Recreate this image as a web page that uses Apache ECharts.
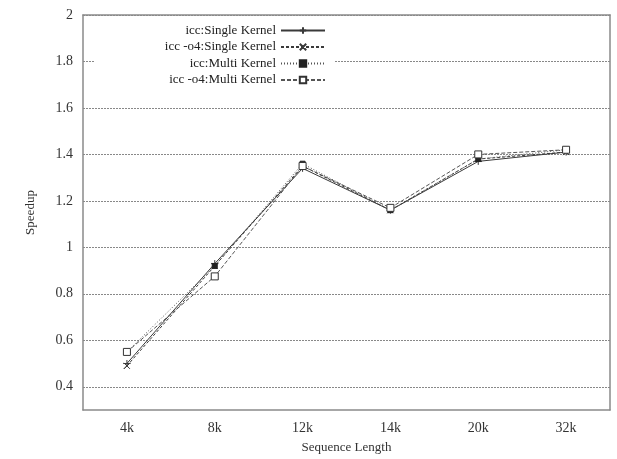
<!DOCTYPE html>
<html>
<head>
<meta charset="utf-8">
<script src="https://cdn.jsdelivr.net/npm/echarts@6/dist/echarts.min.js"></script>
<style>html,body{margin:0;padding:0;background:#fff}#c{width:617px;height:459px}</style>
</head>
<body>
<div id="c"></div>
<script>
var categories = ['4k', '8k', '12k', '14k', '20k', '32k'];
var seriesNames = ['icc:Single Kernel', 'icc -o4:Single Kernel', 'icc:Multi Kernel', 'icc -o4:Multi Kernel'];
var iccSingle = [0.50, 0.93, 1.34, 1.16, 1.37, 1.41];
var iccO4Single = [0.49, 0.92, 1.35, 1.16, 1.38, 1.41];
var iccMulti = [0.55, 0.92, 1.36, 1.16, 1.38, 1.42];
var iccO4Multi = [0.55, 0.875, 1.35, 1.17, 1.40, 1.42];
var yTicks = [0.4, 0.6, 0.8, 1, 1.2, 1.4, 1.6, 1.8, 2];

var FONT = '"Liberation Serif", "DejaVu Serif", serif';
var LINE = '#3a3a3a';
var AXIS = '#8a8a8a';
var plusPath = 'path://M5,0 L5,10 M0,5 L10,5 Z';
var crossPath = 'path://M0,0 L10,10 M10,0 L0,10 Z';

var chart = echarts.init(document.getElementById('c'));
chart.setOption({
  animation: false,
  backgroundColor: '#fff',
  textStyle: { fontFamily: FONT },
  grid: { left: 83, right: 7, top: 15, bottom: 48, containLabel: false },
  legend: {
    orient: 'vertical',
    right: 283,
    top: 20,
    align: 'right',
    itemWidth: 44,
    itemHeight: 8,
    itemGap: 3.5,
    padding: [4, 8, 14, 70],
    backgroundColor: '#fff',
    textStyle: { fontFamily: FONT, fontSize: 13, color: '#222' },
    data: seriesNames
  },
  xAxis: [{
    type: 'category',
    data: categories,
    position: 'bottom',
    name: 'Sequence Length',
    nameLocation: 'middle',
    nameGap: 31,
    nameTextStyle: { fontFamily: FONT, fontSize: 13, color: '#333' },
    axisLine: { lineStyle: { color: AXIS, width: 1.5 } },
    axisTick: { inside: true, alignWithLabel: true, length: 5, lineStyle: { color: AXIS } },
    axisLabel: { fontFamily: FONT, fontSize: 14, color: '#333', margin: 11 },
    splitLine: { show: false }
  }, {
    type: 'category',
    data: categories,
    position: 'top',
    axisLine: { lineStyle: { color: AXIS, width: 1.5 } },
    axisTick: { inside: true, alignWithLabel: true, length: 5, lineStyle: { color: AXIS } },
    axisLabel: { show: false },
    splitLine: { show: false }
  }],
  yAxis: [{
    type: 'value',
    min: 0.3,
    max: 2,
    name: 'Speedup',
    nameLocation: 'middle',
    nameGap: 46,
    nameTextStyle: { fontFamily: FONT, fontSize: 13, color: '#333' },
    axisLine: { show: true, lineStyle: { color: AXIS, width: 1.5 } },
    axisTick: { show: false, customValues: yTicks },
    axisLabel: { fontFamily: FONT, fontSize: 14, color: '#333', margin: 10, customValues: yTicks },
    splitLine: { show: true, lineStyle: { color: '#888', type: [2, 1], width: 1 } }
  }, {
    type: 'value',
    min: 0.3,
    max: 2,
    position: 'right',
    axisLine: { show: true, lineStyle: { color: AXIS, width: 1.5 } },
    axisTick: { show: false },
    axisLabel: { show: false },
    splitLine: { show: false }
  }],
  series: [{
    name: seriesNames[0], type: 'line', data: iccSingle,
    symbol: plusPath, symbolSize: 7,
    lineStyle: { color: LINE, width: 1, type: 'solid' },
    itemStyle: { color: LINE, borderColor: LINE, borderWidth: 1 }
  }, {
    name: seriesNames[1], type: 'line', data: iccO4Single,
    symbol: crossPath, symbolSize: 6,
    lineStyle: { color: LINE, width: 1, type: [3, 2] },
    itemStyle: { color: LINE, borderColor: LINE, borderWidth: 1 }
  }, {
    name: seriesNames[2], type: 'line', data: iccMulti,
    symbol: 'rect', symbolSize: 5,
    lineStyle: { color: '#555', width: 1, type: [1, 2] },
    itemStyle: { color: '#222', borderColor: '#222', borderWidth: 1 }
  }, {
    name: seriesNames[3], type: 'line', data: iccO4Multi,
    symbol: 'rect', symbolSize: 7,
    lineStyle: { color: '#555', width: 1, type: [4, 2] },
    itemStyle: { color: '#fff', borderColor: '#333', borderWidth: 1 }
  }]
});
</script>
</body>
</html>
